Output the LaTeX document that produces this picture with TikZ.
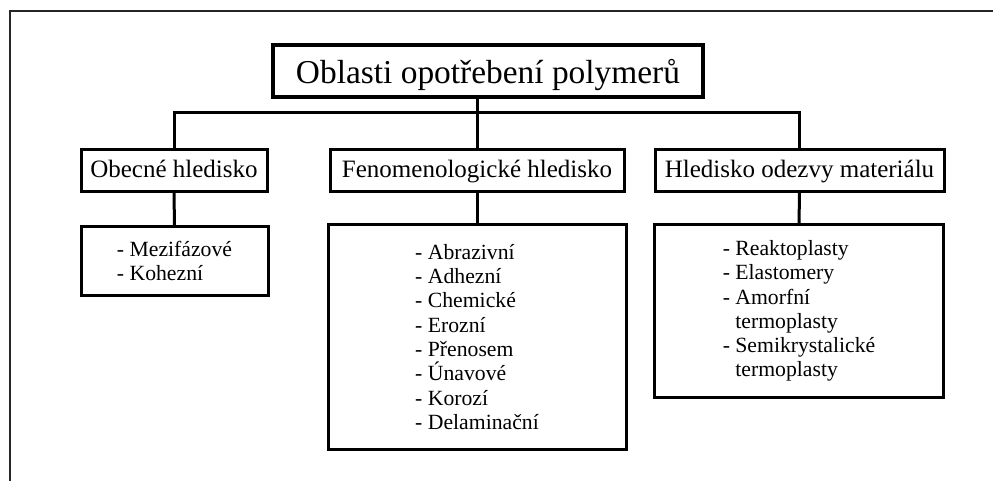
\documentclass[tikz,border=0pt]{standalone}
\usepackage{fontspec}
\setmainfont{Liberation Serif}
\tikzset{
  headbox/.style={draw, line width=3pt, fill=white, inner sep=0pt, outer sep=0pt, text height=20pt, text depth=6pt, font=\fontsize{25}{29}\selectfont},
  titlebox/.style={draw, line width=3.5pt, fill=white, inner sep=0pt, outer sep=0pt, text height=32pt, text depth=6pt, font=\fontsize{33.4}{38}\selectfont},
  listbox/.style={draw, line width=3pt, fill=white, inner sep=0pt, outer sep=0pt, align=left, font=\fontsize{21.7}{24.3}\selectfont},
  conn/.style={line width=3pt},
  frameline/.style={line width=2pt, black!85}
}
\begin{document}
\begin{tikzpicture}[x=1pt, y=-1pt]
\useasboundingbox (0,0) rectangle (993,481);
\fill[white] (0,0) rectangle (993,481);
% outer frame (partial)
\draw[frameline] (10,481) -- (10,11) -- (993,11);

\node[titlebox, minimum width=430, minimum height=52] (title) at (488,71) {Oblasti opotřebení polymerů};

\node[headbox, minimum width=186, minimum height=42] (obe) at (174,171) {Obecné hledisko};
\node[headbox, minimum width=294, minimum height=42] (fen) at (477,171) {Fenomenologické hledisko};
\node[headbox, minimum width=289, minimum height=42] (hle) at (799.5,171) {Hledisko odezvy materiálu};

\node[listbox, minimum width=187, minimum height=68] (l1) at (174.5,261) {- Mezifázové\\- Kohezní};
\node[listbox, minimum width=298, minimum height=224] (l2) at (477,337) {- Abrazivní\\- Adhezní\\- Chemické\\- Erozní\\- Přenosem\\- Únavové\\- Korozí\\- Delaminační};
\node[listbox, minimum width=289, minimum height=172] (l3) at (799,311) {- Reaktoplasty\\- Elastomery\\- Amorfní\\\hphantom{- }termoplasty\\- Semikrystalické\\\hphantom{- }termoplasty};

\coordinate (bar) at (476,113);
\draw[conn] (title.south -| fen.north) -- (fen.north);
\draw[conn] (obe.north) |- (bar) -| (hle.north);
\draw[conn] (obe.south) -- (l1.north);
\draw[conn] (fen.south) -- (l2.north);
\draw[conn] (hle.south) -- (l3.north);
\end{tikzpicture}
\end{document}
